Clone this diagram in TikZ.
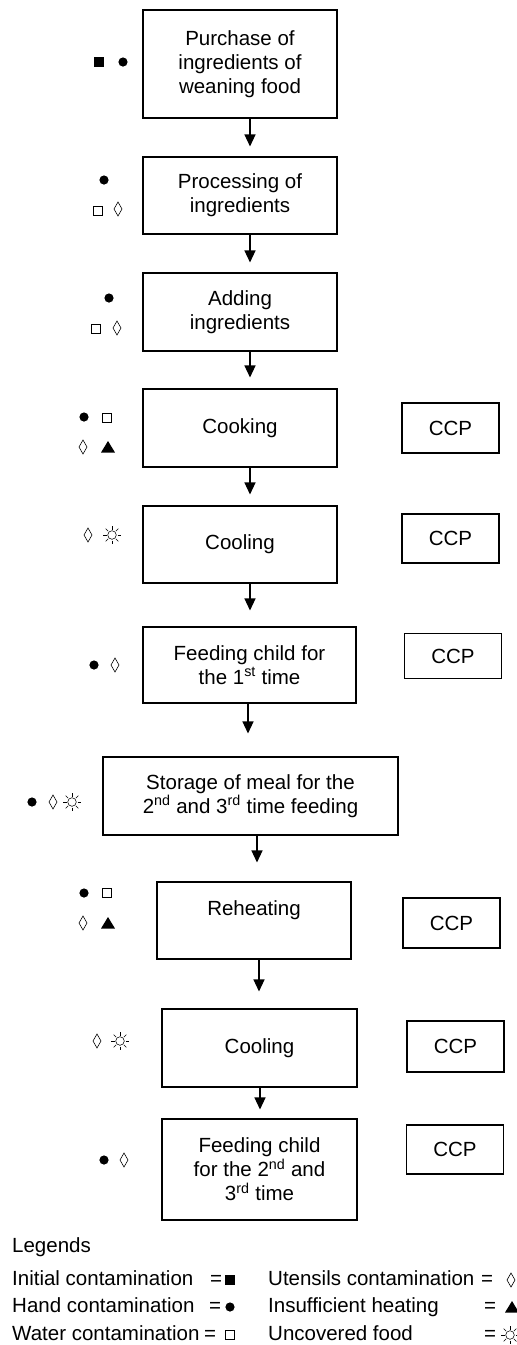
\documentclass[tikz,border=0pt]{standalone}
\usepackage{fontspec}
\setmainfont{Liberation Sans}
\usetikzlibrary{arrows.meta}

\tikzset{
	stepbox/.style={draw, line width=1.1pt, align=center, inner sep=0pt},
	ccpbox/.style={draw, line width=1.1pt, inner sep=0pt, minimum width=97pt},
	flow/.style={line width=1.3pt, -{Triangle[width=11pt,length=12pt]}},
	legtext/.style={anchor=base west, inner sep=0pt},
	initc/.pic={\fill (-5,-5) rectangle (5,5);},
	handc/.pic={\fill (0,0) circle (4.6);},
	waterc/.pic={\draw[line width=0.6pt] (-4.5,-4.5) rectangle (4.5,4.5);},
	utenc/.pic={\draw[line width=0.6pt] (0,7)--(4,0)--(0,-7)--(-4,0)--cycle;},
	heatc/.pic={\fill (-7,-5.5)--(7,-5.5)--(0,6)--cycle;},
	uncovc/.pic={\draw[line width=0.55pt] (0,0) circle (4.3);
		\foreach \a in {0,45,...,315} \draw[line width=0.55pt] (\a:5.5)--(\a:9);}
}

\begin{document}
\begin{tikzpicture}[x=1pt, y=1pt, font=\fontsize{20.5}{24}\selectfont]
	\useasboundingbox (0,0) rectangle (517,-1345);
	% steps
	\node[stepbox, minimum width=194pt, minimum height=108pt] (purchase) at (240,-64) {Purchase of\\ingredients of\\weaning food};
	\node[stepbox, minimum width=194pt, minimum height=77pt] (processing) at (240,-195.5) {Processing of\\ingredients};
	\node[stepbox, minimum width=194pt, minimum height=78pt] (adding) at (240,-312) {Adding\\ingredients};
	\node[stepbox, minimum width=194pt, minimum height=78pt] (cooking) at (240,-428) {Cooking};
	\node[stepbox, minimum width=194pt, minimum height=77pt] (cooling) at (240,-544.5) {Cooling};
	\node[stepbox, minimum width=213pt, minimum height=76pt] (feedone) at (249.5,-665) {Feeding child for\\the 1\textsuperscript{st} time};
	\node[stepbox, minimum width=295pt, minimum height=78pt] (storage) at (250.5,-796) {Storage of meal for the\\2\textsuperscript{nd} and 3\textsuperscript{rd} time feeding};
	\node[stepbox, minimum width=194pt, minimum height=77pt] (reheating) at (254,-920.5) {Reheating\\\mbox{}};
	\node[stepbox, minimum width=195pt, minimum height=78pt] (coolingtwo) at (259.5,-1048) {Cooling};
	\node[stepbox, minimum width=195pt, minimum height=101pt] (feedtwo) at (259.5,-1169.5) {Feeding child\\for the 2\textsuperscript{nd} and\\3\textsuperscript{rd} time};
	% critical control points
	\node[ccpbox, minimum height=50pt] (ccpa) at (450.5,-428) {CCP};
	\node[ccpbox, minimum height=49pt] (ccpb) at (450.5,-538.5) {CCP};
	\node[ccpbox, minimum height=45pt] (ccpc) at (453,-656) {CCP};
	\node[ccpbox, minimum height=50pt] (ccpd) at (451.5,-923) {CCP};
	\node[ccpbox, minimum height=51pt] (ccpe) at (455.5,-1046.5) {CCP};
	\node[ccpbox, minimum height=49pt] (ccpf) at (455,-1149.5) {CCP};
	% arrows
	\foreach \a/\b/\sa/\sb/\g in {purchase/processing/10/10/10, processing/adding/10/10/10,
		adding/cooking/10/10/11, cooking/cooling/10/10/11, cooling/feedone/10/0.5/16,
		feedone/storage/-1.5/-2.5/23, storage/reheating/6.5/3/19,
		reheating/coolingtwo/5/-0.5/17, coolingtwo/feedtwo/0.5/0.5/9}
	\draw[flow] ([xshift=\sa pt]\a.south) -- ([xshift=\sb pt, yshift=\g pt]\b.north);
	% hazards
	\pic at (99,-62) {initc}; \pic at (123,-62) {handc};
	\pic at (104,-180) {handc}; \pic at (98,-211) {waterc}; \pic at (118,-209) {utenc};
	\pic at (109,-298) {handc}; \pic at (96,-329) {waterc}; \pic at (117,-328) {utenc};
	\pic at (84,-417) {handc}; \pic at (107,-418) {waterc}; \pic at (83,-447) {utenc}; \pic at (108,-447) {heatc};
	\pic at (88,-535) {utenc}; \pic at (112,-535) {uncovc};
	\pic at (94,-665) {handc}; \pic at (115,-665) {utenc};
	\pic at (32,-802) {handc}; \pic at (53,-802) {utenc}; \pic at (72,-802) {uncovc};
	\pic at (84,-893) {handc}; \pic at (107,-893) {waterc}; \pic at (83,-923) {utenc}; \pic at (108,-923) {heatc};
	\pic at (97,-1041) {utenc}; \pic at (120,-1041) {uncovc};
	\pic at (104,-1160) {handc}; \pic at (124,-1160) {utenc};
	% legend
	\node[legtext] (legtitle) at (12,-1252) {Legends};
	\node[legtext] (leginit) at (12,-1285) {Initial contamination};
	\node[legtext] (leghand) at (12,-1312) {Hand contamination};
	\node[legtext] (legwater) at (12,-1340) {Water contamination};
	\node[legtext] (legutens) at (268,-1285) {Utensils contamination};
	\node[legtext] (legheat) at (268,-1312) {Insufficient heating};
	\node[legtext] (leguncov) at (268,-1340) {Uncovered food};
	\foreach \x/\y in {216/-1285, 215/-1312, 210/-1340, 487/-1285, 490/-1312, 490/-1340}
	\node[inner sep=0pt, anchor=base] at (\x,\y) {=};
	\pic at (230,-1280) {initc}; \pic at (230,-1307) {handc}; \pic at (230,-1335) {waterc};
	\pic at (511,-1280) {utenc}; \pic at (512,-1307) {heatc}; \pic at (510,-1335) {uncovc};
\end{tikzpicture}
\end{document}
